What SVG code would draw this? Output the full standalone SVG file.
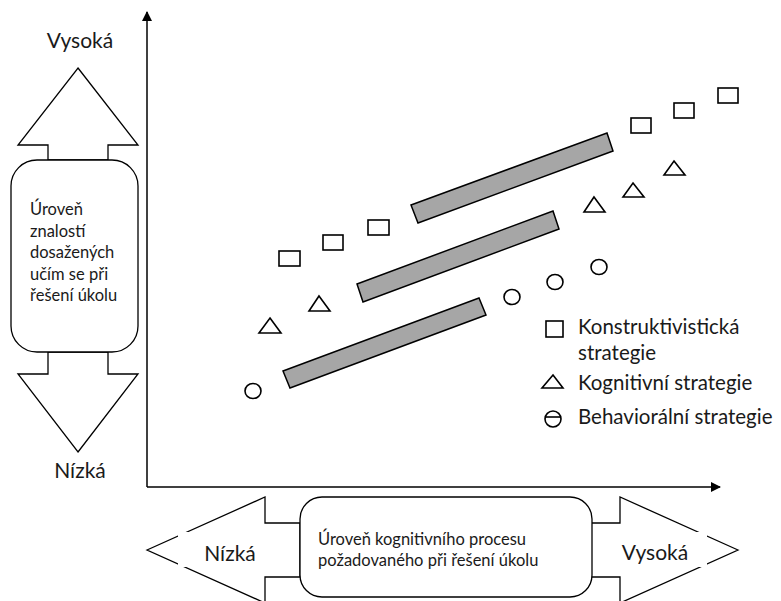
<svg xmlns="http://www.w3.org/2000/svg" width="781" height="601" viewBox="0 0 781 601">
<defs>
<style>
text{font-family:Lato,"Open Sans","Noto Sans",sans-serif;fill:#1a1a1a}
.ln{fill:none;stroke:#000;stroke-width:1.5}
.sh{fill:#fff;stroke:#000;stroke-width:1.3}
.mk{fill:none;stroke:#000;stroke-width:1.6}
.bar{fill:#a6a6a6;stroke:#000;stroke-width:1.5}
.big{font-size:21px}
.sm{font-size:16.5px}
.lg{font-size:20.5px}
</style>
<marker id="ah" viewBox="0 0 10 10" refX="9" refY="5" markerWidth="10" markerHeight="10" markerUnits="userSpaceOnUse" orient="auto">
<path d="M0,0 L10,5 L0,10 z" fill="#000"/>
</marker>
</defs>
<rect width="781" height="601" fill="#fff"/>

<g id="axes">
<path class="ln" d="M147,487 V12" marker-end="url(#ah)"/>
<path class="ln" d="M147,487 H720" marker-end="url(#ah)"/>
</g>

<g id="y-label">
<path class="sh" d="M78,68 L138,145 L108,145 L108,160 L48,160 L48,145 L18,145 Z"/>
<path class="sh" d="M78,452 L138,374 L108,374 L108,352 L48,352 L48,374 L18,374 Z"/>
<rect class="sh" x="11" y="160" width="127" height="192" rx="26"/>
<text class="big" x="80" y="48" text-anchor="middle">Vysoká</text>
<text class="big" x="80" y="478" text-anchor="middle">Nízká</text>
<text class="sm" x="30" y="215">Úroveň</text>
<text class="sm" x="30" y="237">znalostí</text>
<text class="sm" x="30" y="258">dosažených</text>
<text class="sm" x="30" y="280">učím se při</text>
<text class="sm" x="30" y="301">řešení úkolu</text>
</g>

<g id="x-label">
<path class="sh" d="M147,550 L265,497 L265,523 L300,523 L300,577 L265,577 L265,603 Z"/>
<path class="sh" d="M738,550 L620,497 L620,523 L590,523 L590,577 L620,577 L620,603 Z"/>
<rect class="sh" x="300" y="497" width="292" height="100" rx="22"/>
<rect x="178" y="532" width="82" height="35" fill="#fff"/>
<rect x="612" y="532" width="95" height="35" fill="#fff"/>
<text class="big" x="230" y="561" text-anchor="middle">Nízká</text>
<text class="big" x="655" y="560" text-anchor="middle">Vysoká</text>
<text class="sm" x="318" y="545">Úroveň kognitivního procesu</text>
<text class="sm" x="318" y="566">požadovaného při řešení úkolu</text>
</g>

<g id="bars">
<polygon class="bar" points="411,205 607,133 613,151 418,223"/>
<polygon class="bar" points="357,284 553,211 559,229 363,302"/>
<polygon class="bar" points="283,371 479,298 486,315 290,388"/>
</g>

<g id="constructivist-points">
<rect class="mk" x="279" y="251" width="21" height="15"/>
<rect class="mk" x="323" y="235" width="20" height="15"/>
<rect class="mk" x="368" y="220" width="21" height="15"/>
<rect class="mk" x="631" y="118" width="20" height="15"/>
<rect class="mk" x="674" y="103" width="20" height="15"/>
<rect class="mk" x="718" y="88" width="20" height="15"/>
</g>

<g id="cognitive-points">
<polygon class="mk" points="270,318 281,333 259,333"/>
<polygon class="mk" points="319,296 330,311 309,311"/>
<polygon class="mk" points="594,197 605,212 584,212"/>
<polygon class="mk" points="633,183 644,197 623,197"/>
<polygon class="mk" points="674,161 685,175 664,175"/>
</g>

<g id="behavioral-points">
<ellipse class="mk" cx="253" cy="391" rx="8" ry="7.5"/>
<ellipse class="mk" cx="512" cy="297" rx="8" ry="7.5"/>
<ellipse class="mk" cx="555" cy="282" rx="8" ry="7.5"/>
<ellipse class="mk" cx="599" cy="267" rx="8" ry="7.5"/>
</g>

<g id="legend">
<rect class="mk" x="546" y="321" width="17" height="16"/>
<text class="lg" x="578" y="334">Konstruktivistická</text>
<text class="lg" x="578" y="360">strategie</text>
<polygon class="mk" points="553,375 563,388 542,388"/>
<text class="lg" x="578" y="390">Kognitivní strategie</text>
<ellipse class="mk" cx="553" cy="419" rx="8" ry="8"/>
<line class="mk" x1="546" y1="417" x2="560" y2="417"/>
<text class="lg" x="578" y="424">Behaviorální strategie</text>
</g>
</svg>
